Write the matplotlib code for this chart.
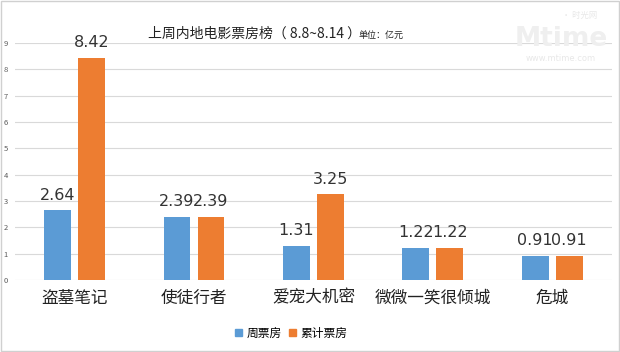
import numpy as np
import matplotlib
matplotlib.use('Agg')
import matplotlib.pyplot as plt
from matplotlib.patches import Rectangle

plt.rcParams['font.family'] = ['Noto Sans CJK SC', 'DejaVu Sans']

movies = ['盗墓笔记', '使徒行者', '爱宠大机密', '微微一笑很倾城', '危城']
weekly = [2.64, 2.39, 1.31, 1.22, 0.91]
total = [8.42, 2.39, 3.25, 1.22, 0.91]
yticks = list(range(0, 10))

blue = '#5b9bd5'
orange = '#ed7d31'

fig = plt.figure(figsize=(6.2, 3.52), dpi=100)
ax = fig.add_axes([0.024, 0.2045, 0.963, 0.6735])

x = np.arange(len(movies))
w = 0.225
off = 0.142
b1 = ax.bar(x - off, weekly, w, color=blue, zorder=3)
b2 = ax.bar(x + off, total, w, color=orange, zorder=3)

for bars, vals in ((b1, weekly), (b2, total)):
    for r, v in zip(bars, vals):
        ax.text(r.get_x() + r.get_width() / 2, v + 0.3, '%.2f' % v,
                ha='center', va='bottom', fontsize=11.5, color='#333333',
                family=['DejaVu Sans'])

ax.set_xlim(-0.5, len(movies) - 0.5)
ax.set_ylim(0, 9)
ax.set_yticks(yticks)
ax.set_yticklabels([str(t) for t in yticks], fontsize=5.5, color='#595959')
ax.tick_params(axis='y', length=0, pad=5)
ax.set_xticks(x)
ax.set_xticklabels(movies, fontsize=12, color='#222222')
ax.tick_params(axis='x', length=0, pad=7)
ax.grid(axis='y', color='#d9d9d9', linewidth=0.8, zorder=0)
for s in ax.spines.values():
    s.set_visible(False)

fig.text(0.238, 0.905, '上周内地电影票房榜（ 8.8~8.14 ）', ha='left', va='center',
         fontsize=10, color='#222222')
fig.text(0.578, 0.900, '单位：亿元', ha='left', va='center', fontsize=6.5, color='#222222')

# watermark
fig.text(0.905, 0.89, 'Mtime', ha='center', va='center', fontsize=19,
         color='#efefef', fontweight='bold', family=['DejaVu Sans'])
fig.text(0.935, 0.955, '• 时光网', ha='center', va='center', fontsize=6, color='#e8e8e8')
fig.text(0.905, 0.835, 'www.mtime.com', ha='center', va='center', fontsize=6,
         color='#e8e8e8', family=['DejaVu Sans'])

h1 = Rectangle((0, 0), 1, 1, color=blue)
h2 = Rectangle((0, 0), 1, 1, color=orange)
fig.legend([h1, h2], ['周票房', '累计票房'], loc='center', bbox_to_anchor=(0.47, 0.054),
           ncol=2, frameon=False, fontsize=8.5, handlelength=0.6, handleheight=0.6,
           handletextpad=0.4, columnspacing=0.6)

fig.add_artist(Rectangle((0.0015, 0.0015), 0.997, 0.997, transform=fig.transFigure,
                         fill=False, edgecolor='#d0d0d0', linewidth=1))

fig.savefig('out.png', dpi=100)
